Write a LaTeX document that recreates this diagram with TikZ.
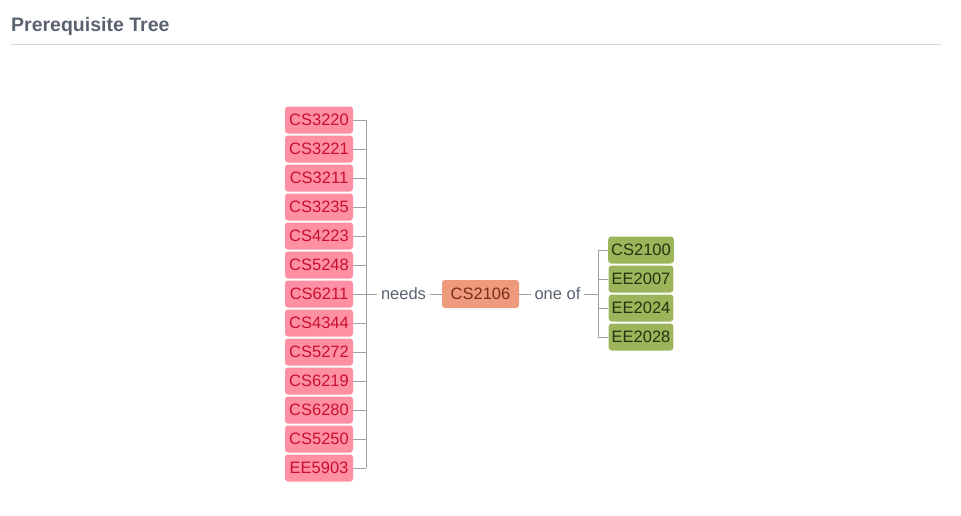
\documentclass[tikz,border=0pt]{standalone}
\usepackage{fontspec}
\setmainfont{Liberation Sans}
\usetikzlibrary{positioning,calc}
\definecolor{pinkfill}{RGB}{255,143,163}
\definecolor{pinktext}{RGB}{200,16,46}
\definecolor{orangefill}{RGB}{238,155,125}
\definecolor{orangetext}{RGB}{125,45,20}
\definecolor{greenfill}{RGB}{157,181,90}
\definecolor{greentext}{RGB}{40,50,15}
\definecolor{linegray}{RGB}{160,160,160}
\definecolor{labelgray}{RGB}{90,98,112}
\definecolor{rulegray}{RGB}{215,215,215}

\begin{document}
\begin{tikzpicture}[x=1pt, y=1pt, node distance=29pt, on grid,
    font=\fontsize{16.5pt}{19pt}\selectfont,
    box/.style={rounded corners=3pt, minimum height=27pt, text height=11.8pt,
      text depth=0pt, inner xsep=3pt},
    need/.style={box, fill=pinkfill, text=pinktext, minimum width=68pt},
    course/.style={box, fill=orangefill, text=orangetext, minimum width=77pt,
      minimum height=28pt},
    option/.style={box, fill=greenfill, text=greentext, minimum width=64pt},
    tag/.style={text=labelgray, text height=11.8pt, text depth=0pt,
      inner xsep=3.5pt, inner ysep=0pt},
    link/.style={draw=linegray, line width=0.9pt}]
    \useasboundingbox (0,0) rectangle (961,-515);
    \node[anchor=base west, inner sep=0pt, text=labelgray,
      font=\fontsize{19.5pt}{23pt}\selectfont\bfseries] (title) at (11,-31)
      {Prerequisite Tree};%
    \coordinate (ruleL) at (11,-44.5);%
    \coordinate (ruleR) at (941,-44.5);%
    \draw[draw=rulegray, line width=0.9pt] (ruleL) -- (ruleR);%

    \node[course] (cs2106) at (480.5,-294) {CS2106};%
    \node[tag] (needs) [left=77pt of cs2106] {needs};%
    \node[tag] (oneof) [right=77pt of cs2106] {one of};%

    \node[need] (cs6211) [left=84.5pt of needs] {CS6211};%
    \node[need] (cs5248) [above=of cs6211] {CS5248};%
    \node[need] (cs4223) [above=of cs5248] {CS4223};%
    \node[need] (cs3235) [above=of cs4223] {CS3235};%
    \node[need] (cs3211) [above=of cs3235] {CS3211};%
    \node[need] (cs3221) [above=of cs3211] {CS3221};%
    \node[need] (cs3220) [above=of cs3221] {CS3220};%
    \node[need] (cs4344) [below=of cs6211] {CS4344};%
    \node[need] (cs5272) [below=of cs4344] {CS5272};%
    \node[need] (cs6219) [below=of cs5272] {CS6219};%
    \node[need] (cs6280) [below=of cs6219] {CS6280};%
    \node[need] (cs5250) [below=of cs6280] {CS5250};%
    \node[need] (ee5903) [below=of cs5250] {EE5903};%

    \node[option] (cs2100) [above right=44pt and 83.5pt of oneof] {CS2100};%
    \node[option] (ee2007) [below=of cs2100] {EE2007};%
    \node[option] (ee2024) [below=of ee2007] {EE2024};%
    \node[option] (ee2028) [below=of ee2024] {EE2028};%

    \coordinate (lbar) at ($(cs6211.east)+(13,0)$);%
    \coordinate (rbar) at ($(oneof.east)+(14,0)$);%

    \path[link] (cs3220.east) edge (cs3220.east -| lbar)
                (cs3221.east) edge (cs3221.east -| lbar)
                (cs3211.east) edge (cs3211.east -| lbar)
                (cs3235.east) edge (cs3235.east -| lbar)
                (cs4223.east) edge (cs4223.east -| lbar)
                (cs5248.east) edge (cs5248.east -| lbar)
                (cs6211.east) edge (lbar)
                (cs4344.east) edge (cs4344.east -| lbar)
                (cs5272.east) edge (cs5272.east -| lbar)
                (cs6219.east) edge (cs6219.east -| lbar)
                (cs6280.east) edge (cs6280.east -| lbar)
                (cs5250.east) edge (cs5250.east -| lbar)
                (ee5903.east) edge (ee5903.east -| lbar);%
    \draw[link] (cs3220.east -| lbar) -- (ee5903.east -| lbar);%
    \draw[link] (lbar) -- (needs) -- (cs2106) -- (oneof) -- (rbar);%
    \path[link] (cs2100.west) edge (cs2100.west -| rbar)
                (ee2007.west) edge (ee2007.west -| rbar)
                (ee2024.west) edge (ee2024.west -| rbar)
                (ee2028.west) edge (ee2028.west -| rbar);%
    \draw[link] (cs2100.west -| rbar) -- (ee2028.west -| rbar);%
  \end{tikzpicture}
\end{document}
